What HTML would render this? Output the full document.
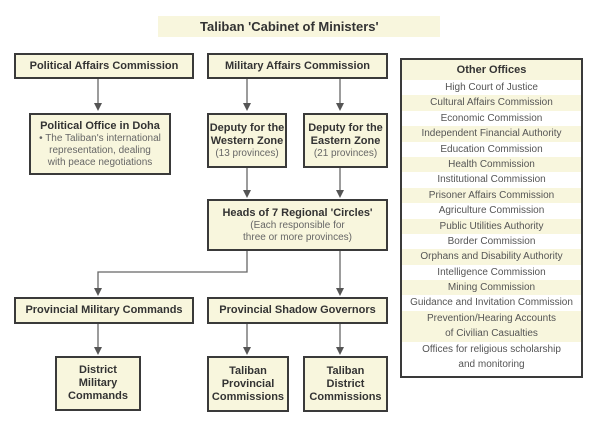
<!DOCTYPE html>
<html><head><meta charset="utf-8"><style>
body{margin:0;width:600px;height:430px;background:#fff;position:relative;overflow:hidden;font-family:"Liberation Sans",sans-serif;}
.b{position:absolute;box-sizing:border-box;border:2px solid #3a3a3a;background:#f8f6dd;text-align:center;color:#333;font-weight:bold;font-size:11px;line-height:13px;display:flex;flex-direction:column;justify-content:center;}
.s{font-weight:normal;color:#666;font-size:10px;line-height:12px;}
svg{position:absolute;left:0;top:0;}
.oo{position:absolute;left:400px;top:58px;width:183px;height:320px;box-sizing:border-box;border:2px solid #3a3a3a;font-size:10px;color:#555;text-align:center;overflow:hidden;}
.oo div{height:15.4px;line-height:15.4px;white-space:nowrap;}
</style></head><body>
<div style="position:absolute;left:158px;top:16px;width:282px;height:21px;background:#f8f6dd;"></div>
<div style="position:absolute;left:200px;top:19px;font-weight:bold;font-size:13px;color:#333;">Taliban 'Cabinet of Ministers'</div>
<svg width="600" height="430">
<defs><marker id="a" markerWidth="8" markerHeight="8" refX="4" refY="4" orient="auto" markerUnits="userSpaceOnUse"><path d="M0,0 L8,4 L0,8z" fill="#555"/></marker></defs>
<g stroke="#666" stroke-width="1.3" fill="none" marker-end="url(#a)">
<line x1="98" y1="78" x2="98" y2="107"/>
<line x1="247" y1="78" x2="247" y2="107"/>
<line x1="340" y1="78" x2="340" y2="107"/>
<line x1="247" y1="167" x2="247" y2="194"/>
<line x1="340" y1="167" x2="340" y2="194"/>
<polyline points="247,250 247,272 98,272 98,292"/>
<line x1="340" y1="250" x2="340" y2="292"/>
<line x1="98" y1="323" x2="98" y2="351"/>
<line x1="247" y1="323" x2="247" y2="351"/>
<line x1="340" y1="323" x2="340" y2="351"/>
</g></svg>
<div class="b" style="left:14px;top:53px;width:180px;height:26px;">Political Affairs Commission</div>
<div class="b" style="left:207px;top:53px;width:181px;height:26px;">Military Affairs Commission</div>
<div class="b" style="left:29px;top:113px;width:142px;height:62px;">Political Office in Doha<span class="s">• The Taliban's international<br>representation, dealing<br>with peace negotiations</span></div>
<div class="b" style="left:207px;top:113px;width:80px;height:55px;">Deputy for the<br>Western Zone<span class="s">(13 provinces)</span></div>
<div class="b" style="left:303px;top:113px;width:85px;height:55px;">Deputy for the<br>Eastern Zone<span class="s">(21 provinces)</span></div>
<div class="b" style="left:207px;top:199px;width:181px;height:52px;">Heads of 7 Regional 'Circles'<span class="s">(Each responsible for<br>three or more provinces)</span></div>
<div class="b" style="left:14px;top:297px;width:180px;height:27px;">Provincial Military Commands</div>
<div class="b" style="left:207px;top:297px;width:181px;height:27px;">Provincial Shadow Governors</div>
<div class="b" style="left:55px;top:356px;width:86px;height:55px;">District<br>Military<br>Commands</div>
<div class="b" style="left:207px;top:356px;width:82px;height:56px;">Taliban<br>Provincial<br>Commissions</div>
<div class="b" style="left:303px;top:356px;width:85px;height:56px;">Taliban<br>District<br>Commissions</div>
<div class="oo">
<div style="font-weight:bold;color:#333;font-size:11px;height:20px;line-height:20px;background:#f8f6dd;">Other Offices</div>
<div style="background:#fff">High Court of Justice</div>
<div style="background:#f8f6dd">Cultural Affairs Commission</div>
<div style="background:#fff">Economic Commission</div>
<div style="background:#f8f6dd">Independent Financial Authority</div>
<div style="background:#fff">Education Commission</div>
<div style="background:#f8f6dd">Health Commission</div>
<div style="background:#fff">Institutional Commission</div>
<div style="background:#f8f6dd">Prisoner Affairs Commission</div>
<div style="background:#fff">Agriculture Commission</div>
<div style="background:#f8f6dd">Public Utilities Authority</div>
<div style="background:#fff">Border Commission</div>
<div style="background:#f8f6dd">Orphans and Disability Authority</div>
<div style="background:#fff">Intelligence Commission</div>
<div style="background:#f8f6dd">Mining Commission</div>
<div style="background:#fff">Guidance and Invitation Commission</div>
<div style="background:#f8f6dd">Prevention/Hearing Accounts</div>
<div style="background:#f8f6dd">of Civilian Casualties</div>
<div style="background:#fff">Offices for religious scholarship</div>
<div style="background:#fff">and monitoring</div>
</div>
</body></html>
